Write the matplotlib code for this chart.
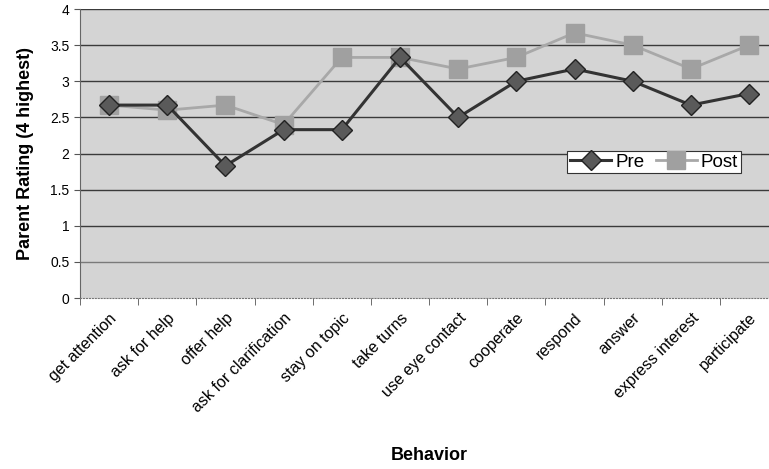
import numpy as np
import matplotlib
matplotlib.use("Agg")
import matplotlib.pyplot as plt

plt.rcParams['font.family'] = ['Liberation Sans', 'DejaVu Sans']

behaviors = ["get attention", "ask for help", "offer help", "ask for clarification",
             "stay on topic", "take turns", "use eye contact", "cooperate",
             "respond", "answer", "express interest", "participate"]
pre = [2.67, 2.67, 1.83, 2.33, 2.33, 3.33, 2.5, 3.0, 3.17, 3.0, 2.67, 2.83]
post = [2.67, 2.6, 2.67, 2.4, 3.33, 3.33, 3.17, 3.33, 3.67, 3.5, 3.17, 3.5]
yticks = [0, 0.5, 1, 1.5, 2, 2.5, 3, 3.5, 4]

fig = plt.figure(figsize=(7.69, 4.69), dpi=100)
ax = fig.add_axes([0.104, 0.3646, 0.908, 0.6162])
ax.set_facecolor('#d4d4d4')

x = np.arange(len(behaviors))
ax.plot(x, post, color='#a8a8a8', lw=2, marker='s', ms=13,
        mfc='#a0a0a0', mec='#a0a0a0', label='Post', zorder=3)
ax.plot(x, pre, color='#333333', lw=2.2, marker='D', ms=10,
        mfc='#5a5a5a', mec='#222222', mew=1, label='Pre', zorder=4)

ax.set_xlim(-0.5, len(behaviors) - 0.5)
ax.set_ylim(0, 4)
ax.set_yticks(yticks)
ax.set_yticklabels([f"{v:g}" for v in yticks], fontsize=10)
for v in yticks[1:]:
    ax.axhline(v, color='#7a7a7a' if v == 0.5 else '#3a3a3a', lw=1, zorder=1)

ax.set_xticks(x)
ax.set_xticklabels(behaviors, rotation=45, ha='right', rotation_mode='anchor', fontsize=11.5)
ax.set_xticks(np.arange(-0.5, len(behaviors)), minor=True)
ax.tick_params(axis='x', which='major', length=0, pad=9)
ax.tick_params(axis='x', which='minor', length=5, color='#555555')
ax.tick_params(axis='y', length=4, color='#555555')

for s in ['top', 'right']:
    ax.spines[s].set_visible(False)
ax.spines['left'].set_color('#666666')
ax.spines['bottom'].set_color('#777777')
ax.spines['bottom'].set_linestyle(':')

ax.set_ylabel("Parent Rating (4 highest)", fontsize=13, fontweight='bold', labelpad=12)
ax.set_xlabel("Behavior", fontsize=13, fontweight='bold', labelpad=23)

h, l = ax.get_legend_handles_labels()
leg = ax.legend(h[::-1], l[::-1], ncol=2, loc='upper left', bbox_to_anchor=(0.698, 0.51),
                fontsize=13.5, frameon=True, fancybox=False, edgecolor='#333333',
                facecolor='white', framealpha=1, handlelength=2.2,
                handletextpad=0.2, columnspacing=0.6, borderpad=0.15, borderaxespad=0)
leg.get_frame().set_linewidth(0.8)

fig.savefig("out.png", dpi=100)
